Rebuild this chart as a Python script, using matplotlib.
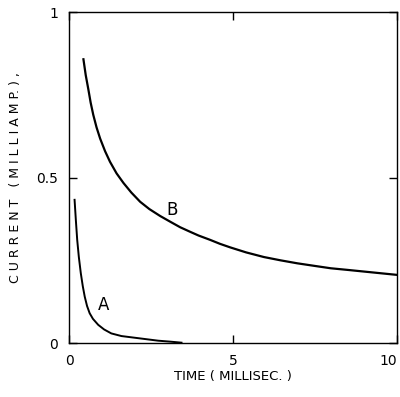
import matplotlib
matplotlib.use("Agg")
import matplotlib.pyplot as plt

# Curve A (time in ms, current in mA)
a_t = [0.17, 0.21, 0.25, 0.30, 0.36, 0.42, 0.48, 0.55, 0.63, 0.73, 0.89, 1.07, 1.29, 1.6, 2.0, 2.4, 2.72, 3.1, 3.43]
a_i = [0.433, 0.37, 0.312, 0.26, 0.211, 0.172, 0.14, 0.112, 0.09, 0.073, 0.055, 0.041, 0.029, 0.021, 0.016, 0.011, 0.007, 0.004, 0.001]
# Curve B
b_t = [0.44, 0.51, 0.59, 0.66, 0.74, 0.84, 0.95, 1.1, 1.25, 1.45, 1.66, 1.9, 2.17, 2.45, 2.78, 3.1, 3.39, 3.7, 3.95,
       4.3, 4.6, 4.92, 5.4, 5.94, 6.45, 6.96, 7.5, 7.98, 8.5, 9.0, 9.5, 10.0]
b_i = [0.858, 0.81, 0.767, 0.727, 0.690, 0.652, 0.618, 0.580, 0.548, 0.513, 0.484, 0.455, 0.427, 0.405, 0.384, 0.366, 0.35, 0.336, 0.325,
       0.312, 0.30, 0.289, 0.274, 0.26, 0.25, 0.241, 0.233, 0.226, 0.221, 0.216, 0.211, 0.206]

xticks = [0, 5, 10]
xticklabels = ["0", "5", "10"]
yticks = [0, 0.5, 1]
yticklabels = ["0", "0.5", "1"]

fig = plt.figure(figsize=(4.0, 3.97), dpi=100)
ax = fig.add_axes([0.1725, 0.136, 0.82, 0.833])
ax.plot(a_t, a_i, color="black", lw=1.4, solid_joinstyle="round")
ax.plot(b_t, b_i, color="black", lw=1.6, solid_joinstyle="round")
ax.text(1.04, 0.115, "A", fontsize=12, ha="center", va="center")
ax.text(3.14, 0.403, "B", fontsize=12, ha="center", va="center")
ax.set_xlim(0, 10)
ax.set_ylim(0, 1.0)
ax.set_xticks(xticks)
ax.set_xticklabels(xticklabels)
ax.set_yticks(yticks)
ax.set_yticklabels(yticklabels)
ax.tick_params(direction="in", top=True, right=True, length=6, width=1, labelsize=10, pad=8)
labs = ax.get_xticklabels()
labs[-1].set_horizontalalignment("right")
for s in ax.spines.values():
    s.set_linewidth(1.0)
ax.set_xlabel("TIME ( MILLISEC. )", fontsize=9.5, labelpad=1)
ax.set_ylabel("C U R R E N T   ( M I L L I A M P. ) ,", fontsize=9, labelpad=10)
fig.savefig("out.png", dpi=100)
